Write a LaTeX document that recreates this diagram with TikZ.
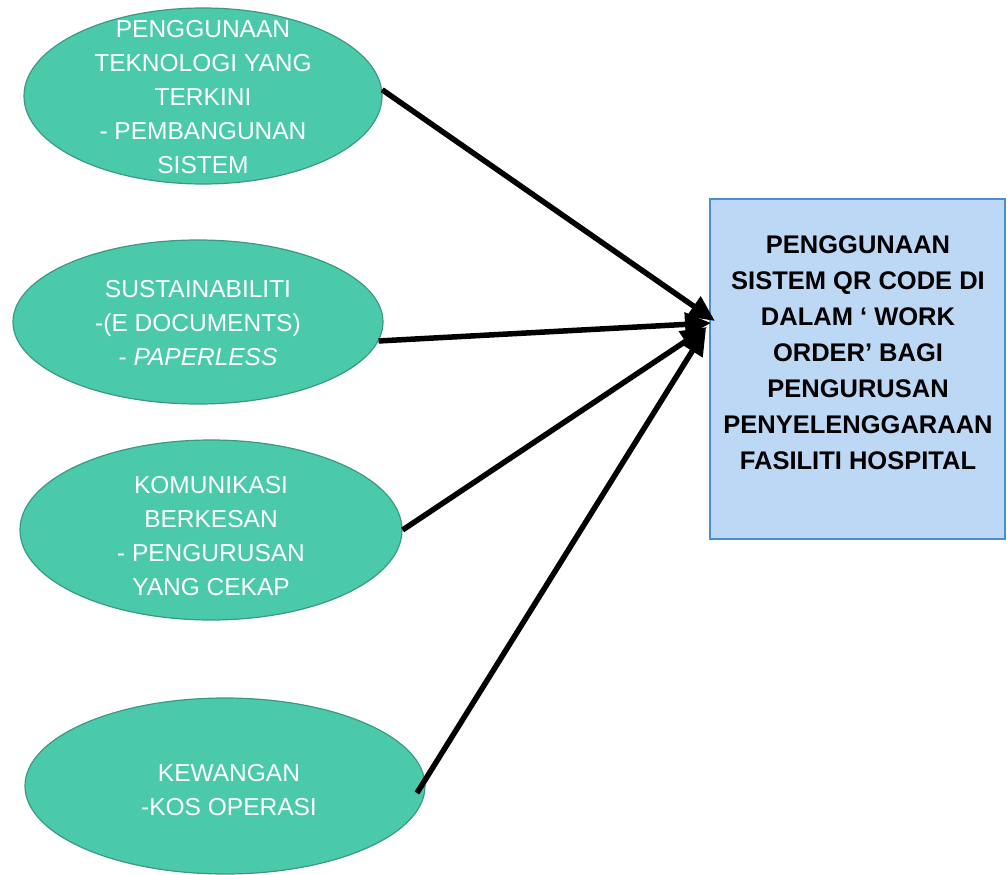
\documentclass[tikz,border=0pt]{standalone}
\usepackage{fontspec}
\setmainfont{Liberation Sans}
\usetikzlibrary{shapes.geometric,arrows.meta}
\definecolor{ellfill}{HTML}{4BC9AB}
\definecolor{elldraw}{HTML}{3A9A80}
\definecolor{boxfill}{HTML}{BDD8F5}
\definecolor{boxdraw}{HTML}{4A8FD0}
\tikzset{
  oval/.style={ellipse, fill=ellfill, draw=elldraw, line width=1.2pt, inner sep=0pt},
  ovaltext/.style={text=white, align=center, font=\fontsize{24.5}{34}\selectfont},
  goalbox/.style={rectangle, fill=boxfill, draw=boxdraw, line width=1.2pt, inner sep=0pt},
  goaltext/.style={align=center, font=\bfseries\fontsize{25.5}{36}\selectfont},
  conn/.style={line width=5.5pt, -{Triangle[length=26pt,width=23pt]}}
}
\begin{document}
\begin{tikzpicture}[x=1pt,y=-1pt]
\useasboundingbox (0,0) rectangle (1007,875);
\node[oval, minimum width=358, minimum height=176] (e1) at (203,96) {};
\node[oval, minimum width=370, minimum height=164] (e2) at (198,322) {};
\node[oval, minimum width=382, minimum height=180] (e3) at (211,530) {};
\node[oval, minimum width=400, minimum height=176] (e4) at (225,786) {};
\node[goalbox, minimum width=295, minimum height=340] (g) at (857.5,369) {};
\node[ovaltext] (t1) at (203,97) {PENGGUNAAN\\TEKNOLOGI YANG\\TERKINI\\- PEMBANGUNAN\\SISTEM};
\node[ovaltext] (t2) at (198,323) {SUSTAINABILITI\\-(E DOCUMENTS)\\- \textit{PAPERLESS}};
\node[ovaltext] (t3) at (211,536) {KOMUNIKASI\\BERKESAN\\- PENGURUSAN\\YANG CEKAP};
\node[ovaltext] (t4) at (229,790) {KEWANGAN\\-KOS OPERASI};
\node[goaltext] (gt) at (858,353) {PENGGUNAAN\\SISTEM QR CODE DI\\DALAM ‘ WORK\\ORDER’ BAGI\\PENGURUSAN\\PENYELENGGARAAN\\FASILITI HOSPITAL};
\coordinate (p1) at (715,321);
\coordinate (p2) at (711,323);
\coordinate (p3) at (707,327);
\coordinate (p4) at (706,329);
\draw[conn] (e1.2) -- (p1);
\draw[conn] (e2.-6) -- (p2);
\draw[conn] (e3.east) -- (p3);
\draw[conn] ([xshift=-8pt]e4.-2) -- (p4);
\end{tikzpicture}
\end{document}
